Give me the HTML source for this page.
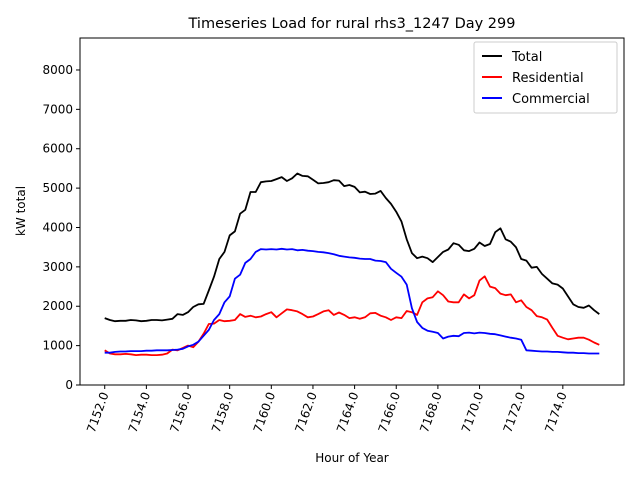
<!DOCTYPE html>
<html><head><meta charset="utf-8"><style>body{margin:0;background:#fff}svg{font-family:"DejaVu Sans","Liberation Sans",sans-serif}</style></head>
<body>
<svg id="c" width="640" height="480" xmlns="http://www.w3.org/2000/svg">
<rect width="640" height="480" fill="#fff"/>
<text x="352" y="28" font-size="14.5" text-anchor="middle">Timeseries Load for rural rhs3_1247  Day 299</text>
<text x="352" y="462" font-size="12" text-anchor="middle">Hour of Year</text>
<text transform="translate(25,211) rotate(-90)" font-size="12" text-anchor="middle">kW total</text>
<g id="axes"></g>
<g id="series"></g>
<rect x="80" y="38" width="544" height="347" fill="none" stroke="#000" stroke-width="1"/>
<g>
<rect x="474" y="42" width="143" height="71" fill="#fff" stroke="#ccc" rx="2"/>
<line x1="482" y1="56" x2="502" y2="56" stroke="#000" stroke-width="2"/>
<text x="512" y="61" font-size="13">Total</text>
<line x1="482" y1="77" x2="502" y2="77" stroke="red" stroke-width="2"/>
<text x="512" y="82" font-size="13">Residential</text>
<line x1="482" y1="98" x2="502" y2="98" stroke="blue" stroke-width="2"/>
<text x="512" y="103" font-size="13">Commercial</text>
</g>
</svg>
<script>
const startHour = 7152;
const stepHours = 0.25;
const totalLoad = [1700,1650,1620,1630,1630,1650,1640,1620,1630,1650,1650,1640,1660,1680,1800,1780,1850,1980,2050,2060,2400,2750,3200,3380,3800,3900,4350,4450,4900,4900,5150,5170,5180,5230,5280,5180,5250,5370,5310,5300,5210,5120,5130,5150,5200,5190,5050,5080,5030,4890,4910,4850,4860,4930,4750,4600,4400,4150,3700,3350,3220,3260,3220,3120,3250,3380,3440,3600,3560,3420,3400,3460,3620,3530,3580,3880,3980,3700,3640,3500,3200,3160,2980,3000,2820,2700,2580,2550,2450,2250,2050,1980,1960,2020,1900,1800];
const residentialLoad = [880,800,780,780,790,780,760,770,770,760,760,770,800,900,880,940,1000,960,1100,1300,1550,1560,1650,1620,1630,1650,1800,1730,1760,1720,1740,1800,1850,1720,1820,1920,1900,1870,1800,1720,1740,1800,1870,1900,1780,1840,1780,1700,1720,1680,1720,1820,1830,1760,1720,1650,1720,1700,1880,1850,1780,2100,2200,2230,2380,2280,2120,2100,2100,2300,2200,2280,2650,2760,2500,2460,2320,2280,2300,2100,2150,1980,1900,1750,1720,1660,1450,1250,1200,1160,1180,1200,1200,1150,1080,1020];
const commercialLoad = [820,820,840,850,850,860,860,860,870,870,880,880,880,890,900,920,980,1020,1100,1250,1400,1650,1800,2100,2250,2700,2800,3100,3200,3380,3450,3440,3450,3440,3460,3440,3450,3420,3430,3410,3400,3380,3370,3350,3320,3280,3260,3240,3230,3210,3200,3200,3160,3150,3120,2950,2850,2750,2550,1950,1600,1450,1380,1350,1320,1180,1230,1250,1240,1320,1330,1310,1330,1320,1300,1290,1260,1230,1200,1180,1150,880,870,860,850,850,840,840,830,820,820,810,810,800,800,800];
const xTicks = [7152,7154,7156,7158,7160,7162,7164,7166,7168,7170,7172,7174];
const yTicks = [0,1000,2000,3000,4000,5000,6000,7000,8000];
const NS="http://www.w3.org/2000/svg";
const x0=7150.8125,x1=7176.9375,L=80,R=624,T=38,B=385,ymax=8812;
const xs=h=>L+(h-x0)/(x1-x0)*(R-L);
const ys=v=>B-v/ymax*(B-T);
const axes=document.getElementById('axes'),ser=document.getElementById('series');
function mk(t,a,p){const e=document.createElementNS(NS,t);for(const k in a)e.setAttribute(k,a[k]);p.appendChild(e);return e;}
yTicks.forEach(v=>{const y=ys(v);
 const l=mk('line',{x1:L-4,x2:L,y1:y,y2:y,stroke:'#000'},axes);
 
 
 const t=mk('text',{x:L-7,y:y+4,'font-size':12,'text-anchor':'end'},axes);
 
 
 t.textContent=v;});
xTicks.forEach(h=>{const x=xs(h);
 const l=mk('line',{x1:x,x2:x,y1:B,y2:B+4,stroke:'#000'},axes);
 
 
 const t=mk('text',{transform:`translate(${x+4},${B+9}) rotate(-70)`,'font-size':12,'text-anchor':'end'},axes);
 
 
 t.textContent=h.toFixed(1);});
function line(arr,color,name){const d=arr.map((v,i)=>(i?'L':'M')+xs(startHour+i*stepHours).toFixed(1)+','+ys(v).toFixed(1)).join('');
 const p=mk('path',{d:d,fill:'none',stroke:color,'stroke-width':1.8,'stroke-linejoin':'round'},ser);
 
 }
line(totalLoad,'#000','total-line');
line(residentialLoad,'red','residential-line');
line(commercialLoad,'blue','commercial-line');
</script>
</body></html>
